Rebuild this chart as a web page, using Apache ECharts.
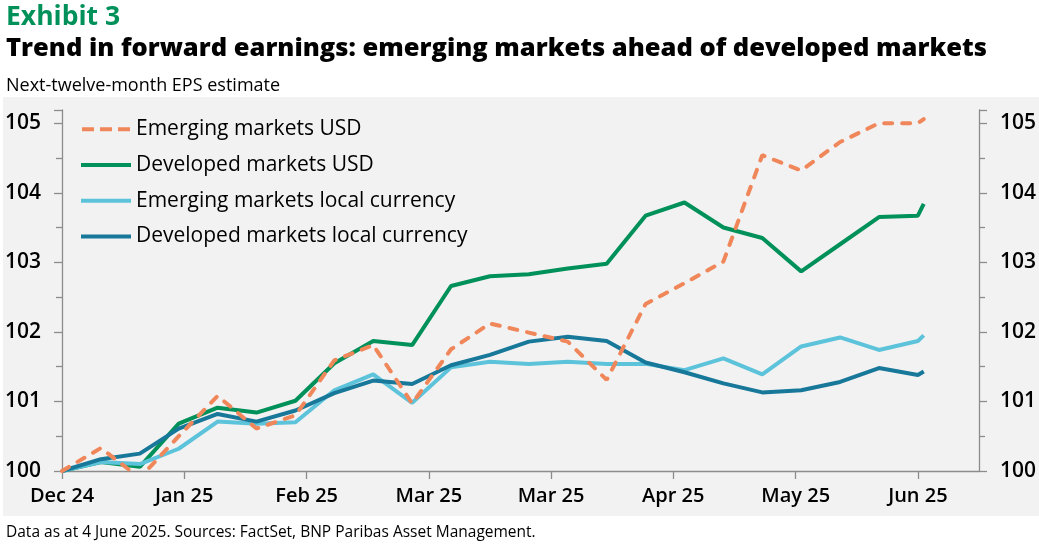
<!DOCTYPE html>
<html>
<head>
<meta charset="utf-8">
<script src="https://cdn.jsdelivr.net/npm/echarts@6/dist/echarts.min.js"></script>
<style>
  html, body { margin: 0; padding: 0; background: #fff; }
  #main { width: 1039px; height: 544px; }
</style>
</head>
<body>
<div id="main"></div>
<script>
// point positions along the x axis (one step = one observation, last one is 4 June)
const xPos = [0, 1, 2, 3, 4, 5, 6, 7, 8, 9, 10, 11, 12, 13, 14, 15, 16, 17, 18, 19, 20, 21, 22, 22.15];

const emUsd = [100.0, 100.33, 99.9, 100.5, 101.08, 100.61, 100.8, 101.59, 101.81, 100.97, 101.75, 102.12,
    101.99, 101.86, 101.31, 102.4, 102.7, 103.01, 104.54, 104.32, 104.73, 105.0, 105.0, 105.06];
const dmUsd = [100.0, 100.13, 100.06, 100.68, 100.91, 100.84, 101.01, 101.55, 101.87, 101.81, 102.66, 102.8,
    102.83, 102.91, 102.98, 103.67, 103.86, 103.5, 103.35, 102.87, 103.26, 103.65, 103.67, 103.84];
const emLocal = [100.0, 100.13, 100.1, 100.32, 100.71, 100.68, 100.7, 101.16, 101.39, 100.98, 101.49, 101.57,
    101.54, 101.57, 101.54, 101.54, 101.45, 101.62, 101.39, 101.79, 101.92, 101.74, 101.87, 101.95];
const dmLocal = [100.0, 100.17, 100.25, 100.61, 100.82, 100.71, 100.87, 101.12, 101.3, 101.25, 101.52, 101.67,
    101.86, 101.93, 101.87, 101.56, 101.42, 101.26, 101.13, 101.16, 101.28, 101.48, 101.38, 101.43];

const tickPos = [0, 3.14, 6.29, 9.43, 12.57, 15.71, 18.86, 22];
const tickLabels = ['Dec 24', 'Jan 25', 'Feb 25', 'Mar 25', 'Mar 25', 'Apr 25', 'May 25', 'Jun 25'];

const seriesNames = ['Emerging markets USD', 'Developed markets USD', 'Emerging markets local currency', 'Developed markets local currency'];

const FONT = '"Open Sans", "Noto Sans", sans-serif';
const axisGrey = '#8c8c8c';
// legend keys: plain line, and a dashed one for the orange series
const solidKey = 'path://M0,0H50V4H0Z';
const dashKey = 'path://M1,0H13V4H1Z M19,0H31V4H19Z M37,0H49V4H37Z';

function pairs(vals) {
    return vals.map((v, i) => [xPos[i], v]);
}

function yAxisCfg(pos) {
    return {
        type: 'value',
        position: pos,
        min: 100,
        max: 105.19,
        interval: 1,
        splitLine: { show: false },
        axisLine: { show: true, lineStyle: { color: axisGrey, width: 1.3 } },
        axisTick: { show: true, length: 8, lineStyle: { color: axisGrey, width: 1.3 } },
        minorTick: { show: true, splitNumber: 2, length: 6, lineStyle: { color: axisGrey, width: 1.3 } },
        axisLabel: {
            margin: 21,
            showMaxLabel: false,
            color: '#000',
            fontSize: 21,
            fontWeight: 600,
            fontFamily: FONT
        }
    };
}

let myChart = echarts.init(document.getElementById('main'));
let option = {
    animation: false,
    backgroundColor: '#fff',
    graphic: [
        {
            type: 'rect',
            z: -10,
            shape: { x: 3, y: 97, width: 1036, height: 419 },
            style: { fill: '#f2f2f2' }
        }
    ],
    title: [
        {
            text: 'Exhibit 3',
            left: 1, top: -1,
            textStyle: { color: '#00915a', fontSize: 26.5, fontWeight: 'bold', fontFamily: FONT }
        },
        {
            text: 'Trend in forward earnings: emerging markets ahead of developed markets',
            left: 1, top: 31,
            textStyle: { color: '#000', fontSize: 25.5, fontWeight: 800, fontFamily: FONT }
        },
        {
            text: 'Next-twelve-month EPS estimate',
            left: 1, top: 72,
            textStyle: { color: '#000', fontSize: 18, fontWeight: 'normal', fontFamily: FONT }
        },
        {
            text: 'Data as at 4 June 2025. Sources: FactSet, BNP Paribas Asset Management.',
            left: 1, top: 520,
            textStyle: { color: '#000', fontSize: 15.5, fontWeight: 'normal', fontFamily: FONT }
        }
    ],
    legend: {
        orient: 'vertical',
        left: 76,
        top: 112,
        itemWidth: 50,
        itemHeight: 4,
        itemGap: 11,
        data: [
            { name: seriesNames[0], icon: dashKey },
            { name: seriesNames[1], icon: solidKey },
            { name: seriesNames[2], icon: solidKey },
            { name: seriesNames[3], icon: solidKey }
        ],
        textStyle: { color: '#000', fontSize: 21, fontFamily: FONT, lineHeight: 24.7 }
    },
    grid: {
        left: 62,
        right: 60,
        top: 110,
        bottom: 73
    },
    xAxis: {
        type: 'value',
        min: 0,
        max: 23.57,
        splitLine: { show: false },
        axisLine: { show: true, lineStyle: { color: axisGrey, width: 1.3 } },
        axisTick: { show: true, length: 8, customValues: tickPos, lineStyle: { color: axisGrey, width: 1.3 } },
        axisLabel: {
            customValues: tickPos,
            margin: 15,
            color: '#000',
            fontSize: 20,
            fontWeight: 600,
            fontFamily: FONT,
            formatter: function (v) {
                let best = 0;
                tickPos.forEach((p, i) => {
                    if (Math.abs(p - v) < Math.abs(tickPos[best] - v)) best = i;
                });
                return tickLabels[best];
            }
        }
    },
    yAxis: [yAxisCfg('left'), yAxisCfg('right')],
    series: [
        {
            name: seriesNames[0],
            type: 'line',
            symbol: 'none',
            data: pairs(emUsd),
            lineStyle: { color: '#f0875a', width: 4, type: [8, 10], cap: 'round' },
            itemStyle: { color: '#f0875a' },
            z: 3
        },
        {
            name: seriesNames[1],
            type: 'line',
            symbol: 'none',
            data: pairs(dmUsd),
            lineStyle: { color: '#00915a', width: 4 },
            itemStyle: { color: '#00915a' },
            z: 2
        },
        {
            name: seriesNames[2],
            type: 'line',
            symbol: 'none',
            data: pairs(emLocal),
            lineStyle: { color: '#5dc3db', width: 4 },
            itemStyle: { color: '#5dc3db' },
            z: 2
        },
        {
            name: seriesNames[3],
            type: 'line',
            symbol: 'none',
            data: pairs(dmLocal),
            lineStyle: { color: '#17789a', width: 4 },
            itemStyle: { color: '#17789a' },
            z: 2
        }
    ]
};
myChart.setOption(option);
</script>
</body>
</html>
